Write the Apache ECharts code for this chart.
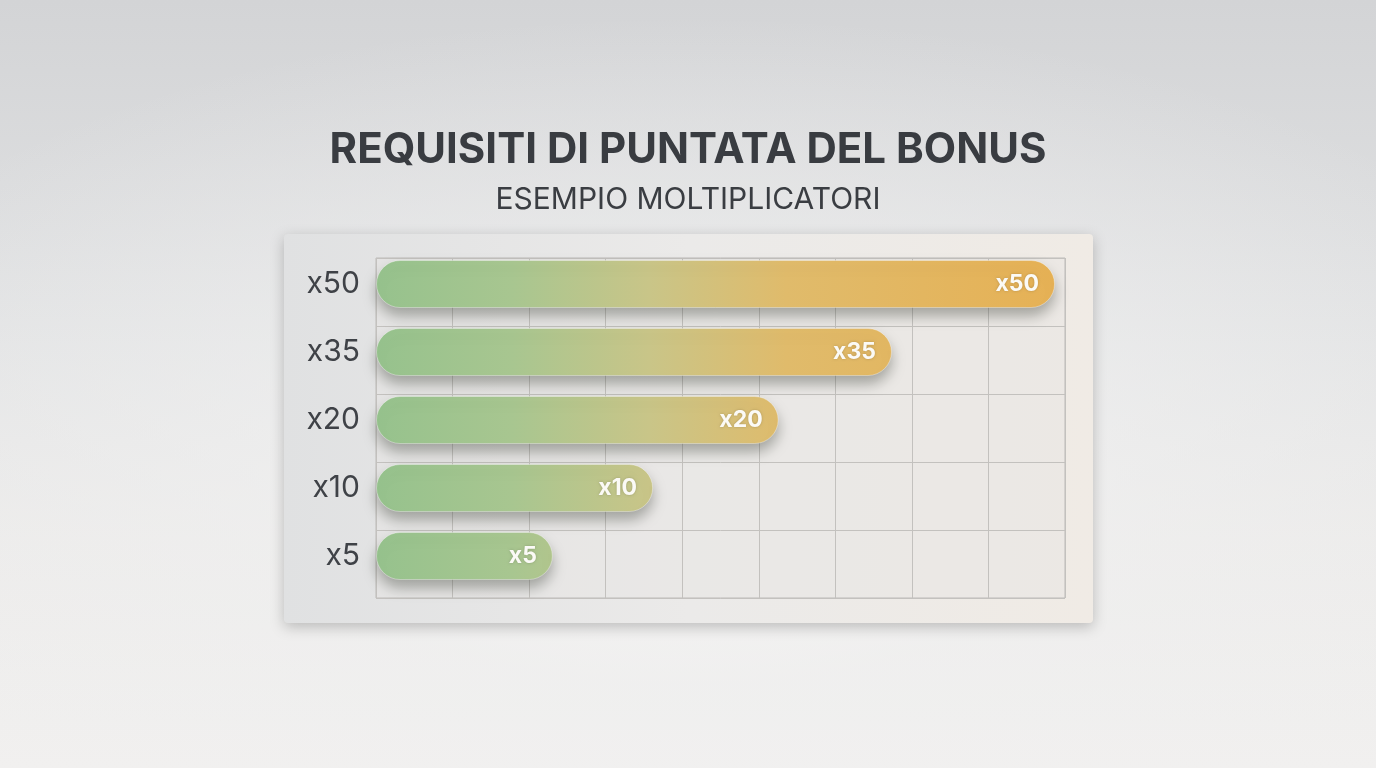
<!DOCTYPE html>
<html>
<head>
<meta charset="utf-8">
<script src="https://cdn.jsdelivr.net/npm/echarts@6/dist/echarts.min.js"></script>
<style>
  html, body { margin: 0; padding: 0; width: 1376px; height: 768px; overflow: hidden; }
  body {
    background:
      radial-gradient(ellipse 70% 60% at 50% 62%, rgba(248,247,246,0.95) 0%, rgba(240,240,240,0.6) 45%, rgba(240,240,240,0) 100%),
      linear-gradient(to bottom, #d3d4d6 0%, #e2e3e4 45%, #ecebea 70%, #f1f0ef 100%);
  }
  #chart { width: 1376px; height: 768px; }
</style>
</head>
<body>
<div id="chart"></div>
<script>
// ---- data ----
const categories = ['x5', 'x10', 'x20', 'x35', 'x50'];
const multipliers = [5, 10, 20, 35, 50];
// bar lengths as drawn in grid-column units (9 columns)
const barLengths = [2.31, 3.62, 5.26, 6.74, 8.87];
const titleText = 'REQUISITI DI PUNTATA DEL BONUS';
const subtitleText = 'ESEMPIO MOLTIPLICATORI';

const chart = echarts.init(document.getElementById('chart'));

const barGradient = new echarts.graphic.LinearGradient(376, 0, 1060, 0, [
  { offset: 0, color: '#96c28d' },
  { offset: 0.2, color: '#a8c690' },
  { offset: 0.4, color: '#c9c588' },
  { offset: 0.6, color: '#e0bb6b' },
  { offset: 1, color: '#e6b155' }
], true);

const gridLine = { show: true, lineStyle: { color: '#c3c1be', width: 1 } };

const option = {
  animation: false,
  title: {
    text: titleText,
    subtext: subtitleText,
    left: 'center',
    top: 124,
    itemGap: 14,
    textStyle: { fontFamily: 'Inter', fontSize: 42, fontWeight: 700, color: '#393c41' },
    subtextStyle: { fontFamily: 'Inter', fontSize: 30, fontWeight: 400, color: '#3a3d42' }
  },
  graphic: [
    {
      type: 'rect',
      z: -10,
      shape: { x: 284, y: 234, width: 809, height: 389, r: 4 },
      style: {
        fill: new echarts.graphic.LinearGradient(0, 0, 1, 0, [
          { offset: 0, color: '#e0e1e2' },
          { offset: 0.5, color: '#ebeae9' },
          { offset: 1, color: '#f0ebe5' }
        ]),
        shadowColor: 'rgba(0,0,0,0.22)',
        shadowBlur: 14,
        shadowOffsetY: 4
      }
    },
    {
      type: 'rect',
      z: -9,
      shape: { x: 376, y: 258, width: 689, height: 340 },
      style: { fill: 'rgba(232,230,227,0.5)' }
    }
  ],
  grid: [
    { left: 376, right: 311, top: 250, bottom: 178 },
    { left: 376, right: 311, top: 258, bottom: 170, show: true, borderColor: '#bdbbb8', borderWidth: 1, backgroundColor: 'transparent' }
  ],
  xAxis: [
    {
      gridIndex: 0, type: 'value', min: 0, max: 9, interval: 1,
      axisLabel: { show: false }, axisTick: { show: false }, axisLine: { show: false },
      splitLine: { show: false }
    },
    {
      gridIndex: 1, type: 'value', min: 0, max: 9, interval: 1,
      axisLabel: { show: false }, axisTick: { show: false }, axisLine: { show: false },
      splitLine: gridLine
    }
  ],
  yAxis: [
    {
      gridIndex: 0, type: 'category', data: categories,
      axisLine: { show: false }, axisTick: { show: false }, splitLine: { show: false },
      axisLabel: { fontFamily: 'Inter', fontSize: 30, color: '#3f4247', margin: 16 }
    },
    {
      gridIndex: 1, type: 'value', min: 0, max: 5, interval: 1,
      axisLabel: { show: false }, axisTick: { show: false }, axisLine: { show: false },
      splitLine: gridLine
    }
  ],
  series: [{
    type: 'bar',
    xAxisIndex: 0, yAxisIndex: 0,
    data: barLengths.map((v, i) => ({ value: v, mult: multipliers[i] })),
    barWidth: 48,
    itemStyle: {
      color: barGradient,
      borderRadius: 24,
      shadowColor: 'rgba(55,60,50,0.4)',
      shadowBlur: 14,
      shadowOffsetY: 8,
      borderColor: 'rgba(255,255,255,0.35)',
      borderWidth: 1
    },
    label: {
      show: true,
      position: 'insideRight',
      distance: 16,
      formatter: p => 'x' + multipliers[p.dataIndex],
      fontFamily: 'Inter', fontSize: 23, fontWeight: 700, color: '#fbfaf6',
      textShadowColor: 'rgba(0,0,0,0.2)', textShadowBlur: 3
    }
  }]
};
chart.setOption(option);
</script>
</body>
</html>
